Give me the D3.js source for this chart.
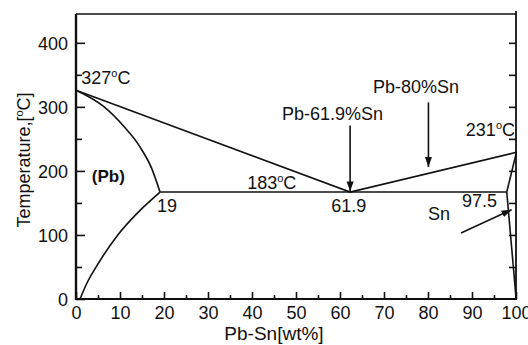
<!DOCTYPE html>
<html lang="en">
<head>
    <meta charset="utf-8">
    <title>Pb-Sn</title>
    <script src="https://d3js.org/d3.v7.min.js" charset="utf-8"></script>
    <style type="text/css">
        body {
            margin: 0;
            background-color: white;
        }
        svg text {
            font-family: "Liberation Sans", Arial, sans-serif;
            fill: #111;
        }
        .curve {
            fill: none;
            stroke: #111;
            stroke-width: 1.6px;
        }
    </style>
</head>
<body>
<script type="text/javascript">
    // values: [wt% Sn, temperature]
    var liquidus = [[0, 326], [62.3, 167], [100.1, 229]];
    var solidusPb = [[0, 326], [6.2, 301], [10.8, 270], [14.5, 238], [17.2, 204], [19.1, 167]];
    var solvusPb = [[0.9, 0], [2.5, 25], [5.2, 57], [9.5, 100], [14.5, 138], [19.1, 167]];
    var eutectic = [[19.1, 167], [97.9, 167]];
    var solidusSn = [[100.1, 229], [97.9, 167]];
    var solvusSn = [[97.9, 167], [100, 3]];

    var xTicks = [0, 10, 20, 30, 40, 50, 60, 70, 80, 90, 100];
    var yTicks = [0, 100, 200, 300, 400];

    // arrows: from -> to
    var arrows = [
        [[62.3, 271], [62.3, 168]],
        [[80.1, 307], [80.1, 206]],
        [[87.5, 103], [99.0, 139.5]]
    ];

    var labels = [
        {t: "327", deg: true, x: 1.2, y: 335},
        {t: "(Pb)", x: 3.6, y: 183, bold: true},
        {t: "19", x: 18.4, y: 136},
        {t: "183", deg: true, x: 38.9, y: 172},
        {t: "61.9", x: 58, y: 136},
        {t: "Pb-61.9%Sn", x: 46.8, y: 280},
        {t: "Pb-80%Sn", x: 67.5, y: 322},
        {t: "231", deg: true, x: 88.6, y: 254},
        {t: "97.5", x: 87.7, y: 144},
        {t: "Sn", x: 80, y: 124}
    ];

    var margin = {top: 14, right: 12, bottom: 46, left: 76},
        width = 528 - margin.left - margin.right,
        height = 345 - margin.top - margin.bottom;

    var svg = d3.select("body")
        .append("svg")
        .attr("width", 528)
        .attr("height", 345)
        .append("g")
        .attr("transform", "translate(" + margin.left + "," + margin.top + ")");

    var x = d3.scaleLinear().domain([0, 100]).range([0, width]);
    var y = d3.scaleLinear().domain([0, 445]).range([height, 0]);

    svg.append("defs").append("marker")
        .attr("id", "head")
        .attr("viewBox", "0 0 10 10")
        .attr("refX", 10)
        .attr("refY", 5)
        .attr("markerWidth", 10)
        .attr("markerHeight", 10)
        .attr("markerUnits", "userSpaceOnUse")
        .attr("orient", "auto")
        .append("path")
        .attr("d", "M0,1.5L10,5L0,8.5Z")
        .attr("fill", "#111");

    // minor ticks
    svg.append("g")
        .attr("transform", "translate(0," + height + ")")
        .call(d3.axisBottom(x).tickValues(d3.range(5, 100, 10)).tickSize(-4).tickSizeOuter(0).tickFormat(""))
        .call(function(g){ g.select(".domain").remove(); });
    svg.append("g")
        .call(d3.axisLeft(y).tickValues([50, 150, 250, 350]).tickSize(-6).tickSizeOuter(0).tickFormat(""))
        .call(function(g){ g.select(".domain").remove(); });
    svg.append("g")
        .attr("transform", "translate(" + width + ",0)")
        .call(d3.axisRight(y).tickValues(d3.range(50, 450, 50)).tickSize(-7).tickSizeOuter(0).tickFormat(""))
        .call(function(g){ g.select(".domain").remove(); });

    // major ticks
    var xAxis = svg.append("g")
        .attr("transform", "translate(0," + height + ")")
        .call(d3.axisBottom(x).tickValues(xTicks).tickSize(-7).tickSizeOuter(0).tickPadding(7));
    var yAxis = svg.append("g")
        .call(d3.axisLeft(y).tickValues(yTicks).tickSize(-9).tickSizeOuter(0).tickPadding(8));

    svg.selectAll(".tick line").attr("stroke", "#111").attr("stroke-width", 1.6);
    svg.selectAll(".domain").remove();
    [xAxis, yAxis].forEach(function(a){
        a.selectAll("text")
            .attr("font-size", "18px")
            .attr("font-family", "'Liberation Sans', Arial, sans-serif")
            .attr("fill", "#111");
    });
    yAxis.selectAll("text").attr("dy", "0.36em");

    // frame
    svg.append("line").attr("x1", 0).attr("x2", width).attr("y1", 0).attr("y2", 0)
        .attr("stroke", "#111").attr("stroke-width", 1.5);
    svg.append("line").attr("x1", width).attr("x2", width).attr("y1", -3).attr("y2", height)
        .attr("stroke", "#111").attr("stroke-width", 1.8);
    svg.append("line").attr("x1", 0).attr("x2", 0).attr("y1", 0).attr("y2", height + 1)
        .attr("stroke", "#111").attr("stroke-width", 2.4);
    svg.append("line").attr("x1", -1).attr("x2", width + 1).attr("y1", height).attr("y2", height)
        .attr("stroke", "#111").attr("stroke-width", 2);

    var straight = d3.line().x(function(d){ return x(d[0]); }).y(function(d){ return y(d[1]); });
    var smooth = d3.line().curve(d3.curveMonotoneX).x(function(d){ return x(d[0]); }).y(function(d){ return y(d[1]); });

    [liquidus, eutectic, solidusSn, solvusSn].forEach(function(d){
        svg.append("path").attr("class", "curve").attr("d", straight(d));
    });
    [solidusPb, solvusPb].forEach(function(d){
        svg.append("path").attr("class", "curve").attr("d", smooth(d));
    });

    svg.selectAll(".arrow")
        .data(arrows)
        .enter()
        .append("line")
        .attr("class", "arrow")
        .attr("x1", function(d){ return x(d[0][0]); })
        .attr("y1", function(d){ return y(d[0][1]); })
        .attr("x2", function(d){ return x(d[1][0]); })
        .attr("y2", function(d){ return y(d[1][1]); })
        .attr("stroke", "#111")
        .attr("stroke-width", 1.6)
        .attr("marker-end", "url(#head)");

    var lab = svg.selectAll(".lab")
        .data(labels)
        .enter()
        .append("text")
        .attr("class", "lab")
        .attr("x", function(d){ return x(d.x); })
        .attr("y", function(d){ return y(d.y); })
        .attr("font-size", function(d){ return d.bold ? "17px" : "18px"; })
        .attr("font-weight", function(d){ return d.bold ? "bold" : "normal"; });
    lab.append("tspan").text(function(d){ return d.t; });
    lab.filter(function(d){ return d.deg; })
        .each(function(){
            var t = d3.select(this);
            t.append("tspan").attr("dy", -7).attr("font-size", "11px").text("o");
            t.append("tspan").attr("dy", 7).text("C");
        });

    // axis titles
    svg.append("text")
        .attr("x", x(45))
        .attr("y", height + 41)
        .attr("text-anchor", "middle")
        .attr("font-size", "19px")
        .text("Pb-Sn[wt%]");

    var yt = svg.append("text")
        .attr("transform", "translate(" + (30 - margin.left) + "," + (160 - margin.top) + ") rotate(-90)")
        .attr("text-anchor", "middle")
        .attr("font-size", "18px");
    yt.append("tspan").text("Temperature,[");
    yt.append("tspan").attr("dy", -7).attr("font-size", "11px").text("o");
    yt.append("tspan").attr("dy", 7).text("C]");
</script>
</body>
</html>
